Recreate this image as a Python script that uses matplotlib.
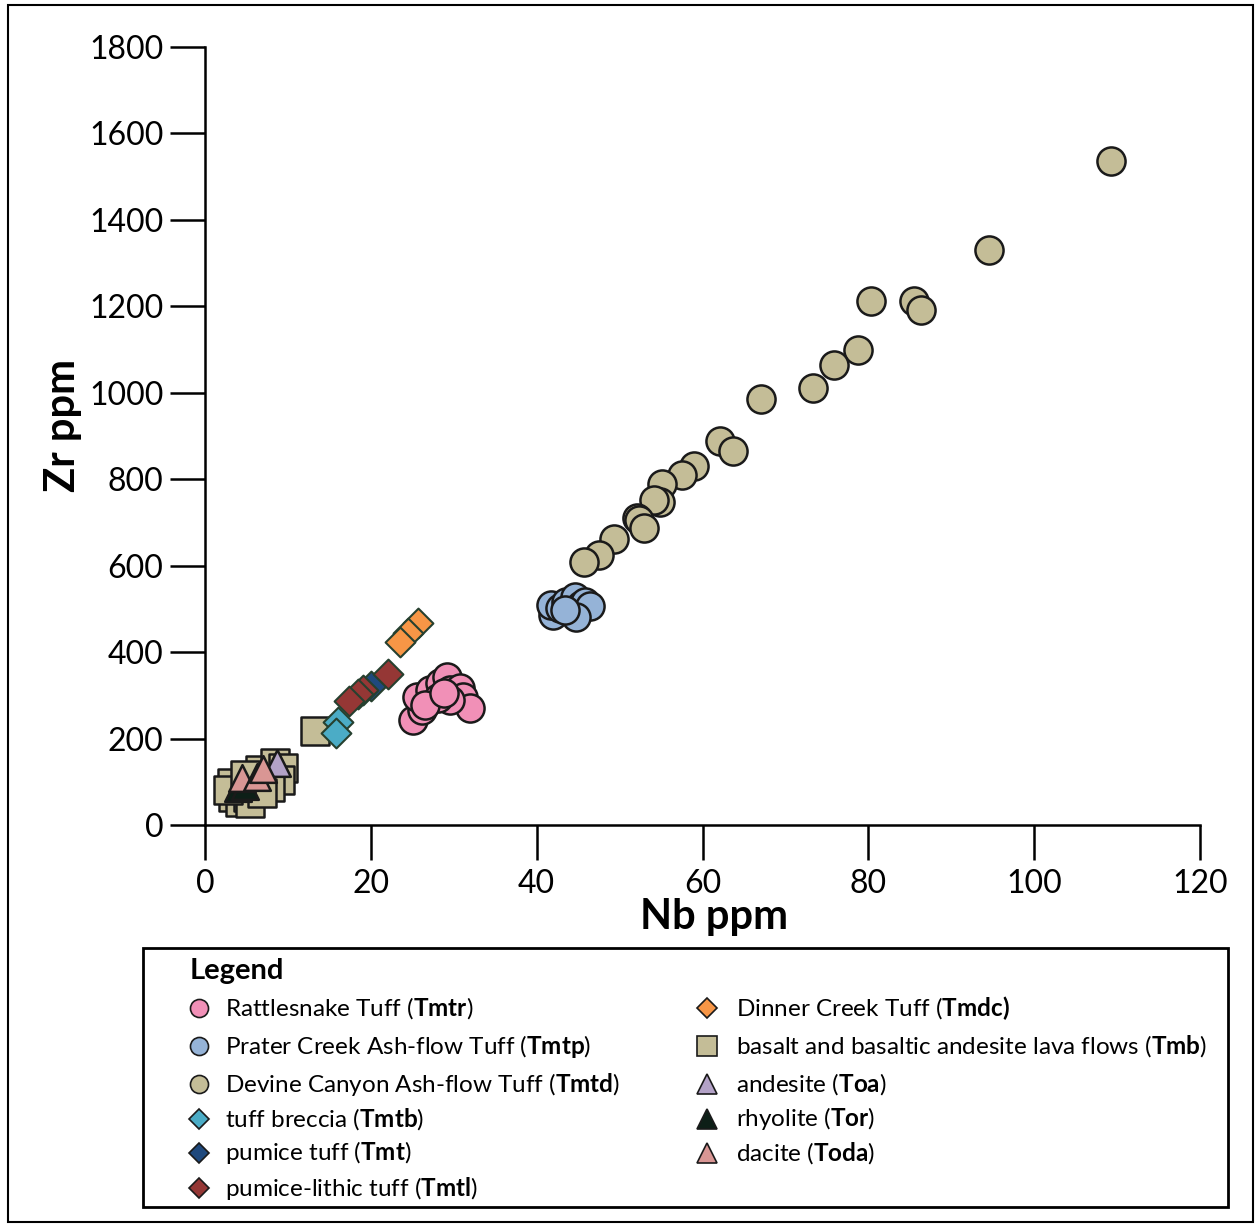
import numpy as np
import matplotlib.pyplot as plt
from matplotlib.patches import Rectangle

plt.rcParams['font.family'] = ['Lato', 'DejaVu Sans']
plt.rcParams['mathtext.fontset'] = 'custom'
plt.rcParams['mathtext.rm'] = 'Lato'
plt.rcParams['mathtext.bf'] = 'Lato:bold'

# --- data (Nb ppm, Zr ppm) ---
tmtd_nb = [109.3, 94.6, 80.3, 85.5, 86.4, 78.8, 75.9, 73.3, 67.1, 62.1, 63.7, 59.0, 57.5,
           55.1, 54.9, 54.2, 52.1, 52.4, 53.0, 49.3, 47.5, 45.7]
tmtd_zr = [1536, 1330, 1212, 1212, 1192, 1099, 1064, 1011, 986, 888, 865, 831, 810,
           790, 747, 752, 710, 706, 687, 662, 625, 608]

tmtp_nb = [41.95, 41.7, 42.8, 43.5, 44.6, 44.4, 45.4, 45.8, 46.4, 44.8, 43.4]
tmtp_zr = [486, 509, 502, 516, 527, 493, 509, 516, 507, 481, 497]

tmtr_nb = [25.1, 26.2, 25.6, 27.1, 28.3, 29.2, 29.5, 30.1, 30.7, 31.1, 31.9, 29.5, 28.1, 26.5, 28.8]
tmtr_zr = [243, 266, 296, 312, 329, 342, 312, 301, 317, 296, 271, 289, 294, 278, 305]

tmb_nb = [13.3, 3.4, 4.2, 3.3, 5.2, 6.6, 8.4, 9.4, 9.0, 7.8, 5.4, 2.8, 6.0, 4.8, 6.9]
tmb_zr = [218, 65, 53, 97, 65, 127, 143, 132, 104, 88, 51, 81, 93, 116, 74]

tmtb_nb = [16.0, 15.8]
tmtb_zr = [238, 213]

tmt_nb = [20.0]
tmt_zr = [322]

tmtl_nb = [22.1, 19.0, 18.4, 17.4]
tmtl_zr = [349, 312, 302, 288]

tmdc_nb = [25.7, 24.5, 23.5]
tmdc_zr = [467, 444, 423]

toa_nb = [8.7]
toa_zr = [143]

tor_nb = [4.0, 4.8]
tor_zr = [85, 90]

toda_nb = [4.5, 6.3, 7.0]
toda_zr = [108, 112, 130]

# colours
c_tmtr = '#F190B7'
c_tmtp = '#95B3D7'
c_tmtd = '#C4BD97'
c_tmtb = '#4BACC6'
c_tmt = '#1F497D'
c_tmtl = '#953735'
c_tmdc = '#F79646'
c_toa = '#B3A2C7'
c_tor = '#0D1F17'
c_toda = '#D99694'
edge = '#1a1a1a'
dedge = '#26402F'

W, H = 1259, 1227
fig = plt.figure(figsize=(W / 100, H / 100), dpi=100)
ax = fig.add_axes([205 / W, 1 - 825 / H, (1200 - 205) / W, (825 - 47) / H])

ax.scatter(tmtd_nb, tmtd_zr, s=410, c=c_tmtd, edgecolors=edge, linewidths=1.8, zorder=3)
ax.scatter(tmtp_nb, tmtp_zr, s=410, c=c_tmtp, edgecolors=edge, linewidths=1.8, zorder=3)
ax.scatter(tmtr_nb, tmtr_zr, s=410, c=c_tmtr, edgecolors=edge, linewidths=1.8, zorder=3)
ax.scatter(tmb_nb, tmb_zr, s=400, marker='s', c=c_tmtd, edgecolors=edge, linewidths=1.8, zorder=3)
ax.scatter(tmtb_nb, tmtb_zr, s=230, marker='D', c=c_tmtb, edgecolors=dedge, linewidths=1.5, zorder=4)
ax.scatter(tmt_nb, tmt_zr, s=230, marker='D', c=c_tmt, edgecolors=dedge, linewidths=1.5, zorder=4)
ax.scatter(tmtl_nb, tmtl_zr, s=230, marker='D', c=c_tmtl, edgecolors=dedge, linewidths=1.5, zorder=4)
ax.scatter(tmdc_nb, tmdc_zr, s=230, marker='D', c=c_tmdc, edgecolors=dedge, linewidths=1.5, zorder=4)
ax.scatter(toa_nb, toa_zr, s=370, marker='^', c=c_toa, edgecolors=edge, linewidths=1.8, zorder=5)
ax.scatter(tor_nb, tor_zr, s=370, marker='^', c=c_tor, edgecolors=edge, linewidths=1.8, zorder=5)
ax.scatter(toda_nb, toda_zr, s=370, marker='^', c=c_toda, edgecolors=edge, linewidths=1.8, zorder=5)

ax.set_xlim(0, 120)
ax.set_ylim(0, 1800)
ax.set_xticks(np.arange(0, 121, 20))
ax.set_yticks(np.arange(0, 1801, 200))
for side in ['top', 'right']:
    ax.spines[side].set_visible(False)
for side in ['left', 'bottom']:
    ax.spines[side].set_linewidth(1.8)
ax.tick_params(axis='both', direction='out', length=25, width=1.8, labelsize=23)
ax.tick_params(axis='x', pad=7)
ax.tick_params(axis='y', pad=5)
ax.set_xlabel('Nb ppm', fontsize=30, fontweight='bold')
ax.set_ylabel('Zr ppm', fontsize=30, fontweight='bold')
ax.xaxis.set_label_coords(0.5116, -0.094)
ax.yaxis.set_label_coords(-0.1236, 0.513)

# outer frame and legend box
fig.patches.append(Rectangle((8 / W, 1 - 1222 / H), (1253 - 8) / W, (1222 - 5) / H,
                             transform=fig.transFigure, fill=False, lw=1.5, ec='black'))
fig.patches.append(Rectangle((143 / W, 1 - 1207 / H), (1228 - 143) / W, (1207 - 948) / H,
                             transform=fig.transFigure, fill=False, lw=2, ec='black'))

fig.text(190 / W, 1 - 971 / H, 'Legend', fontsize=21, fontweight='bold', va='center')

left_items = [
    ('o', c_tmtr, r'Rattlesnake Tuff ($\mathbf{Tmtr}$)'),
    ('o', c_tmtp, r'Prater Creek Ash-flow Tuff ($\mathbf{Tmtp}$)'),
    ('o', c_tmtd, r'Devine Canyon Ash-flow Tuff ($\mathbf{Tmtd}$)'),
    ('D', c_tmtb, r'tuff breccia ($\mathbf{Tmtb}$)'),
    ('D', c_tmt, r'pumice tuff ($\mathbf{Tmt}$)'),
    ('D', c_tmtl, r'pumice-lithic tuff ($\mathbf{Tmtl}$)'),
]
right_items = [
    ('D', c_tmdc, r'Dinner Creek Tuff ($\mathbf{Tmdc)}$'),
    ('s', c_tmtd, r'basalt and basaltic andesite lava flows ($\mathbf{Tmb}$)'),
    ('^', c_toa, r'andesite ($\mathbf{Toa}$)'),
    ('^', c_tor, r'rhyolite ($\mathbf{Tor}$)'),
    ('^', c_toda, r'dacite ($\mathbf{Toda}$)'),
]
left_rows = [1008, 1046, 1084, 1119, 1153, 1188]
right_rows = [1008, 1046, 1084, 1119, 1153]
msize = {'o': 13, 's': 14, 'D': 10, '^': 14}

leg = fig.add_axes([0, 0, 1, 1], facecolor='none')
leg.set_xlim(0, W)
leg.set_ylim(H, 0)
leg.axis('off')
for (m, col, label), yy in zip(left_items, left_rows):
    leg.plot(199, yy, marker=m, ms=msize[m], mfc=col, mec=edge, mew=1.2)
    leg.text(225, yy, label, fontsize=17.5, va='center')
for (m, col, label), yy in zip(right_items, right_rows):
    leg.plot(707, yy, marker=m, ms=msize[m], mfc=col, mec=edge, mew=1.2)
    leg.text(736, yy, label, fontsize=17.5, va='center')

fig.savefig('out.png', dpi=100)
